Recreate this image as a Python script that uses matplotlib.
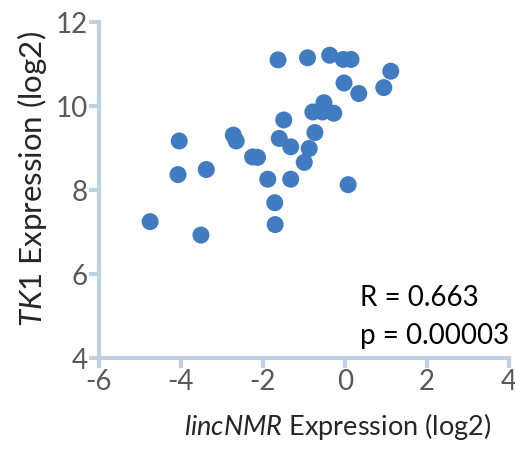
import matplotlib
matplotlib.use("Agg")
import matplotlib.pyplot as plt

plt.rcParams['font.family'] = ['Lato', 'DejaVu Sans']
plt.rcParams['mathtext.fontset'] = 'custom'
plt.rcParams['mathtext.rm'] = 'Lato'
plt.rcParams['mathtext.it'] = 'Lato:italic'

# lincNMR vs TK1 expression (log2)
lincnmr = [-1.63, -0.91, -0.37, -0.04, 0.15, 1.12, -0.02, 0.34, 0.95, -0.51,
           -0.78, -0.55, -0.27, -1.49, -0.73, -4.04, -2.72, -2.65, -1.60, -1.32,
           -0.87, -2.25, -2.13, -0.99, -4.07, -3.38, -1.88, -1.32, 0.08, -1.71,
           -4.75, -3.51, -1.70]
tk1 = [11.10, 11.15, 11.21, 11.11, 11.11, 10.83, 10.55, 10.30, 10.44, 10.08,
       9.86, 9.86, 9.83, 9.67, 9.37, 9.17, 9.31, 9.17, 9.23, 9.03,
       8.99, 8.79, 8.78, 8.66, 8.37, 8.49, 8.26, 8.26, 8.13, 7.70,
       7.25, 6.93, 7.18]

xticks = [-6, -4, -2, 0, 2, 4]
yticks = [4, 6, 8, 10, 12]

spine_col = '#BFD0E4'
dot_col = '#417BC1'

fig = plt.figure(figsize=(5.15, 4.5), dpi=100)
ax = fig.add_axes([0.192, 0.204, 0.796, 0.747])

ax.scatter(lincnmr, tk1, s=150, color=dot_col, edgecolors='none', zorder=3)

ax.set_xlim(-6, 4)
ax.set_ylim(4, 12)
ax.set_xticks(xticks)
ax.set_yticks(yticks)
ax.set_xticklabels([str(t) for t in xticks])
ax.set_yticklabels([str(t) for t in yticks])

for side in ['top', 'right']:
    ax.spines[side].set_visible(False)
for side in ['left', 'bottom']:
    ax.spines[side].set_color(spine_col)
    ax.spines[side].set_linewidth(3)

ax.tick_params(axis='both', direction='out', length=7, width=3, color=spine_col,
               labelsize=20, labelcolor='#595959', pad=1)

# axis titles placed by hand, like the original
fig.text(338 / 515, 1 - 427 / 450, r'$\mathit{lincNMR}$ Expression (log2)',
         fontsize=19.5, color='#262626', ha='center', va='center')
fig.text(32 / 515, 1 - 179 / 450, r'$\mathit{TK1}$ Expression (log2)',
         fontsize=22.5, color='#262626', ha='center', va='center', rotation=90)

ax.text(0.638, 0.18, 'R = 0.663', transform=ax.transAxes, fontsize=20, color='black', va='center')
ax.text(0.638, 0.065, 'p = 0.00003', transform=ax.transAxes, fontsize=20, color='black', va='center')

fig.savefig('out.png', dpi=100)
